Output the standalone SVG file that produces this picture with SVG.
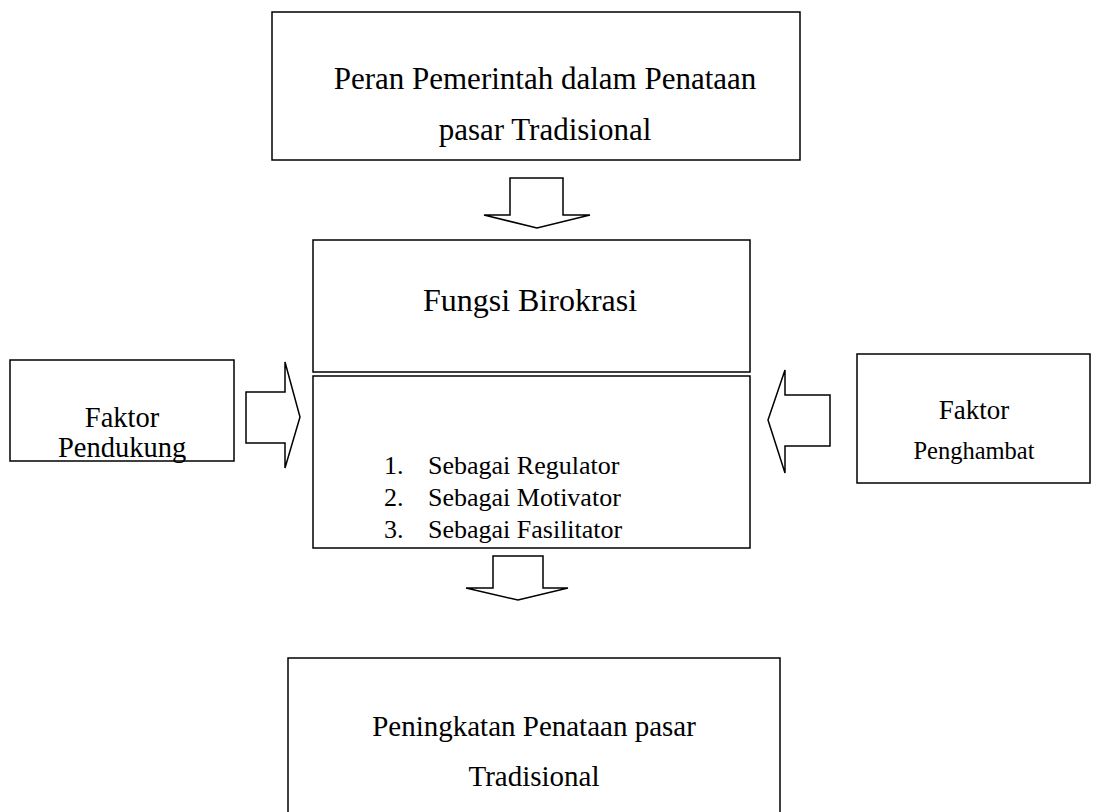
<svg xmlns="http://www.w3.org/2000/svg" width="1100" height="812" viewBox="0 0 1100 812">
<style>
.box{fill:#fff;stroke:#000;stroke-width:1.5}
.arr{fill:#fff;stroke:#000;stroke-width:1.5;stroke-linejoin:miter}
text{font-family:"Liberation Serif","Times New Roman",serif;fill:#000}
.big{font-size:31px}
.lst{font-size:26px}
.fac{font-size:28.5px}
</style>
<rect width="1100" height="812" fill="#fff"/>
<g id="top">
<rect class="box" x="272" y="12" width="528" height="148"/>
<text class="big" x="545" y="89" text-anchor="middle">Peran Pemerintah dalam Penataan</text>
<text class="big" x="545" y="140" text-anchor="middle">pasar Tradisional</text>
</g>
<g id="fungsi">
<rect class="box" x="313" y="240" width="437" height="132"/>
<text class="big" x="530" y="311" text-anchor="middle" style="font-size:32px">Fungsi Birokrasi</text>
</g>
<g id="list">
<rect class="box" x="313" y="376" width="437" height="172"/>
<text class="lst" x="384" y="474">1.</text>
<text class="lst" x="428" y="474">Sebagai Regulator</text>
<text class="lst" x="384" y="506">2.</text>
<text class="lst" x="428" y="506">Sebagai Motivator</text>
<text class="lst" x="384" y="538">3.</text>
<text class="lst" x="428" y="538">Sebagai Fasilitator</text>
</g>
<g id="pendukung">
<rect class="box" x="10" y="360" width="224" height="101"/>
<text class="fac" x="122" y="427" text-anchor="middle">Faktor</text>
<text class="fac" x="122" y="457" text-anchor="middle">Pendukung</text>
</g>
<g id="penghambat">
<rect class="box" x="857" y="354" width="233" height="129"/>
<text x="974" y="419" text-anchor="middle" style="font-size:27px">Faktor</text>
<text x="974" y="459" text-anchor="middle" style="font-size:24.5px">Penghambat</text>
</g>
<g id="bottom">
<rect class="box" x="288" y="658" width="492" height="170"/>
<text class="fac" x="534" y="736" text-anchor="middle" style="font-size:29px">Peningkatan Penataan pasar</text>
<text class="fac" x="534" y="786" text-anchor="middle" style="font-size:29px">Tradisional</text>
</g>
<g id="connectors">
<polygon class="arr" points="510,178 563,178 563,215 590,215 537,228 484,215 510,215"/>
<polygon class="arr" points="246,392 285,392 285,362 300,417 285,468 285,443 246,443"/>
<polygon class="arr" points="830,395 785,395 785,370 768,420 785,473 785,446 830,446"/>
<polygon class="arr" points="493,556 543,556 543,588 568,588 518,600 466,588 493,588"/>
</g>
</svg>
